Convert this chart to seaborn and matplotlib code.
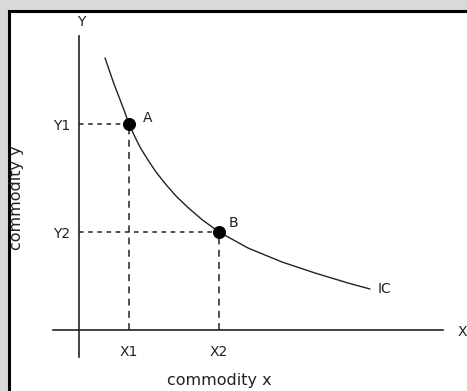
import numpy as np
import pandas as pd
import matplotlib
matplotlib.use('Agg')
import matplotlib.pyplot as plt
import seaborn as sns
from matplotlib.patches import Rectangle

# indifference curve (origin = where the axes cross)
curve_x = [0.52, 0.61, 0.70, 0.80, 0.90, 1.00, 1.11, 1.23, 1.38, 1.54,
           1.73, 1.94, 2.19, 2.47, 2.80, 3.38, 4.06, 4.72, 5.38, 5.82]
curve_y = [5.44, 5.18, 4.92, 4.66, 4.40, 4.12, 3.88, 3.64, 3.40, 3.16,
           2.92, 2.68, 2.44, 2.20, 1.96, 1.64, 1.36, 1.14, 0.94, 0.82]

# the two bundles on the curve
point_names = ['A', 'B']
point_x = [1.00, 2.80]
point_y = [4.12, 1.96]

x_tick_labels = ['X1', 'X2']
y_tick_labels = ['Y1', 'Y2']

curve = pd.DataFrame({'x': curve_x, 'y': curve_y})
points = pd.DataFrame({'name': point_names, 'x': point_x, 'y': point_y})

sns.set_style('white')
plt.rcParams['font.family'] = ['DejaVu Sans']
ink = '#222222'

fig = plt.figure(figsize=(4.67, 3.91), dpi=100, facecolor='#d9d9d9')
ax = fig.add_axes([0, 0, 1, 1])
ax.set_facecolor('none')
ax.set_xlim(-1.58, 7.76)
ax.set_ylim(-1.22, 6.60)

# white card with a black frame, running off the right and bottom
ax.add_patch(Rectangle((-1.40, -2.0), 10, 8.39, facecolor='white',
                       edgecolor='black', linewidth=2.2, zorder=0, clip_on=False))

# axes through the origin
for side in ['top', 'right']:
    ax.spines[side].set_visible(False)
ax.spines['left'].set_position(('data', 0))
ax.spines['bottom'].set_position(('data', 0))
ax.spines['left'].set_bounds(-0.54, 5.88)
ax.spines['bottom'].set_bounds(-0.52, 7.28)
for side in ['left', 'bottom']:
    ax.spines[side].set_color(ink)
    ax.spines[side].set_linewidth(1.2)
    ax.spines[side].set_zorder(2)

ax.set_xticks(point_x, x_tick_labels)
ax.set_yticks(point_y, y_tick_labels)
ax.tick_params(axis='both', direction='out', length=5, width=1.0, color=ink,
               labelcolor=ink, labelsize=10)
ax.tick_params(axis='x', pad=6)
ax.tick_params(axis='y', pad=1.5)

# dashed guides from the points to the axes
for px, py in zip(point_x, point_y):
    ax.plot([0, px], [py, py], color=ink, lw=1.1, ls=(0, (3, 3)), zorder=1)
    ax.plot([px, px], [0, py], color=ink, lw=1.1, ls=(0, (4.5, 3.5)), zorder=1)

sns.lineplot(data=curve, x='x', y='y', ax=ax, color=ink, lw=1.0, sort=False)
sns.scatterplot(data=points, x='x', y='y', ax=ax, color='black', s=75,
                edgecolor='black', zorder=3)

label_offsets = [(0.38, 0.12), (0.28, 0.18)]
for (_, r), (dx, dy) in zip(points.iterrows(), label_offsets):
    ax.text(r['x'] + dx, r['y'] + dy, r['name'], color=ink, fontsize=10,
            ha='center', va='center')

ax.text(curve_x[-1] + 0.16, curve_y[-1], 'IC', color=ink, fontsize=10, va='center')
ax.text(0.04, 6.16, 'Y', color=ink, fontsize=10, ha='center', va='center')
ax.text(7.58, -0.05, 'X', color=ink, fontsize=10, va='center')

ax.set_xlabel('')
ax.set_ylabel('')
ax.text(2.80, -1.01, 'commodity x', color=ink, fontsize=11.5, ha='center', va='center')
ax.text(-1.24, 2.64, 'commodity y', color=ink, fontsize=11.5, ha='center',
        va='center', rotation=90)

fig.savefig('out.png', dpi=100, facecolor=fig.get_facecolor())
